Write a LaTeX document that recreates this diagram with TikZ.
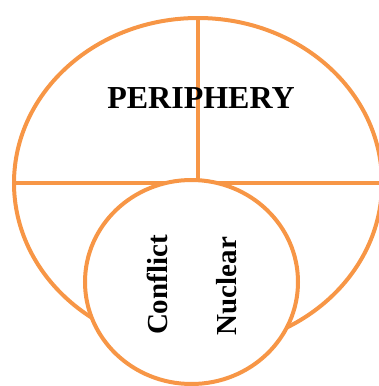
\documentclass[tikz,border=0pt]{standalone}
\usepackage{fontspec}
\setmainfont{Liberation Serif}
\usetikzlibrary{positioning}
\definecolor{ringorange}{HTML}{F79646}
\tikzset{
  ring/.style={draw=ringorange, line width=4bp},
  bigword/.style={font=\fontsize{32bp}{36bp}\selectfont\bfseries},
  sideword/.style={font=\fontsize{29bp}{33bp}\selectfont\bfseries, rotate=90},
}

\begin{document}
\begin{tikzpicture}[x=1bp, y=-1bp]
    \useasboundingbox (0,0) rectangle (379,386);

    % Outer ring and its dividers
    \begin{scope}
        \clip (0,0) rectangle (379,386);
        \draw[ring] (198,183) ellipse [x radius=184, y radius=165];
    \end{scope}
    \coordinate (top) at (198,18);
    \coordinate (mid) at (198,183);
    \coordinate (west) at (14,183);
    \coordinate (east) at (382,183);
    \draw[ring] (top) -- (mid);
    \draw[ring] (west) -- (east);

    % Inner ring
    \fill[white] (191.5,282) ellipse [x radius=106.5, y radius=102];
    \draw[ring] (191.5,282) ellipse [x radius=106.5, y radius=102];

    % Labels
    \node[bigword] (periphery) at (201,98) {PERIPHERY};
    \node[sideword] (conflict) at (157,285) {Conflict};
    \node[sideword] (nuclear) at (227,286) {Nuclear};
\end{tikzpicture}
\end{document}
